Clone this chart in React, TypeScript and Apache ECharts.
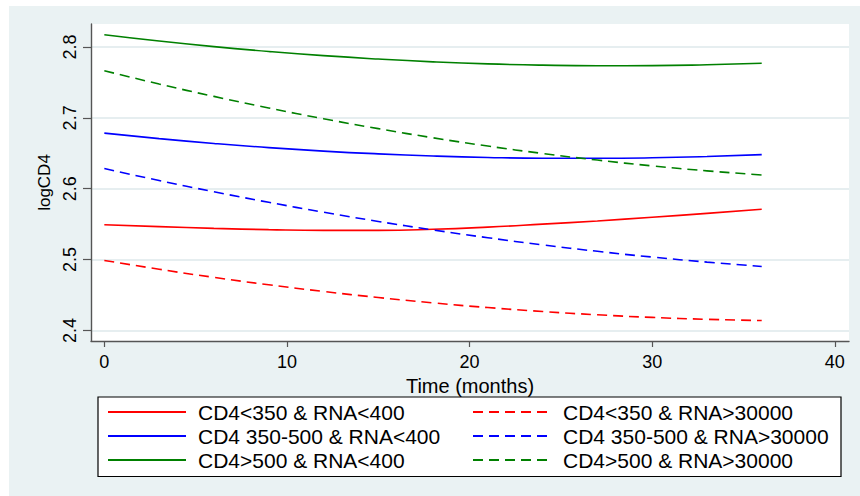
import React, { useEffect, useRef } from "react";
import * as echarts from "echarts";

// Time points (months) at which the curves were read
const months = [0, 3, 6, 9, 12, 15, 18, 21, 24, 27, 30, 33, 36];

// logCD4 values
const lowCd4LowRna = [2.5492, 2.5465, 2.544, 2.5422, 2.5412, 2.5412, 2.5427, 2.5458, 2.55, 2.5545, 2.5597, 2.5652, 2.5709];
const lowCd4HighRna = [2.4987, 2.4863, 2.4748, 2.4644, 2.4549, 2.4464, 2.4388, 2.4322, 2.4266, 2.422, 2.4183, 2.4156, 2.4139];
const midCd4LowRna = [2.6784, 2.6707, 2.6639, 2.658, 2.6531, 2.6492, 2.6462, 2.6441, 2.643, 2.6429, 2.6436, 2.6454, 2.6481];
const midCd4HighRna = [2.6284, 2.6115, 2.5957, 2.5808, 2.5668, 2.5538, 2.5418, 2.5308, 2.5207, 2.5116, 2.5035, 2.4964, 2.4902];
const highCd4LowRna = [2.8174, 2.8085, 2.8006, 2.7937, 2.7878, 2.783, 2.7791, 2.7762, 2.7744, 2.7736, 2.7737, 2.7749, 2.7771];
const highCd4HighRna = [2.7665, 2.7478, 2.7303, 2.714, 2.6988, 2.6848, 2.6719, 2.6602, 2.6497, 2.6404, 2.6322, 2.6252, 2.6194];

const solidNames = ["CD4<350 & RNA<400", "CD4 350-500 & RNA<400", "CD4>500 & RNA<400"];
const dashedNames = ["CD4<350 & RNA>30000", "CD4 350-500 & RNA>30000", "CD4>500 & RNA>30000"];
const colors = ["#ff0000", "#0000ff", "#008000"];

const yTicks = [2.4, 2.5, 2.6, 2.7, 2.8];
const xTicks = [0, 10, 20, 30, 40];

const FONT = "'Liberation Sans', Arial, Helvetica, sans-serif";

function pairs(vals: number[]) {
  return months.map((m, i) => [m, vals[i]]);
}

export default function App() {
  const ref = useRef<HTMLDivElement>(null);

  useEffect(() => {
    if (!ref.current) return;
    const chart = echarts.init(ref.current, undefined, { renderer: "svg" });

    const solidData = [lowCd4LowRna, midCd4LowRna, highCd4LowRna];
    const dashedData = [lowCd4HighRna, midCd4HighRna, highCd4HighRna];

    const series: any[] = [];
    for (let i = 0; i < 3; i++) {
      series.push({
        name: solidNames[i],
        type: "line",
        data: pairs(solidData[i]),
        symbol: "none",
        smooth: true,
        lineStyle: { color: colors[i], width: 1.6, type: "solid" },
        itemStyle: { color: colors[i] },
      });
      series.push({
        name: dashedNames[i],
        type: "line",
        data: pairs(dashedData[i]),
        symbol: "none",
        smooth: true,
        lineStyle: { color: colors[i], width: 1.6, type: [10, 6] },
        itemStyle: { color: colors[i] },
      });
    }

    const legendCommon = {
      orient: "vertical",
      top: 394,
      padding: 0,
      itemWidth: 78,
      itemHeight: 14,
      itemGap: 0,
      selectedMode: false,
      z: 10,
      itemStyle: { opacity: 0, borderWidth: 0 },
      textStyle: {
        fontFamily: FONT,
        fontSize: 21,
        color: "#000",
        lineHeight: 24,
        padding: [0, 0, 0, 7],
      },
    };

    chart.setOption({
      animation: false,
      backgroundColor: "#EAF2F3",
      grid: {
        left: 82,
        top: 18,
        right: 11,
        bottom: 155,
        show: true,
        backgroundColor: "#ffffff",
        borderWidth: 0,
      },
      xAxis: {
        type: "value",
        min: -0.73,
        max: 40.78,
        name: "Time (months)",
        nameLocation: "middle",
        nameGap: 22,
        nameTextStyle: { fontFamily: FONT, fontSize: 20, color: "#000" },
        axisLine: { show: true, onZero: false, lineStyle: { color: "#555", width: 1.4 } },
        axisTick: { show: true, length: 6, customValues: xTicks, lineStyle: { color: "#555", width: 1.2 } },
        axisLabel: { customValues: xTicks, margin: 12, fontFamily: FONT, fontSize: 18, color: "#000" },
        splitLine: { show: false },
      },
      yAxis: {
        type: "value",
        min: 2.385,
        max: 2.8325,
        name: "logCD4",
        nameLocation: "middle",
        nameGap: 31,
        nameTextStyle: { fontFamily: FONT, fontSize: 17, color: "#000" },
        axisLine: { show: true, onZero: false, lineStyle: { color: "#555", width: 1.4 } },
        axisTick: { show: true, length: 8, customValues: yTicks, lineStyle: { color: "#555", width: 1.2 } },
        axisLabel: { customValues: yTicks, rotate: 90, margin: 12, fontFamily: FONT, fontSize: 18, color: "#000" },
        splitLine: { show: true, lineStyle: { color: "#E6EEF0", width: 2 } },
      },
      legend: [
        { ...legendCommon, left: 98, data: solidNames },
        { ...legendCommon, left: 463, data: dashedNames },
      ],
      graphic: [
        {
          type: "rect",
          z: 1,
          shape: { x: 89, y: 391, width: 743, height: 79.5 },
          style: { fill: "#ffffff", stroke: "#000", lineWidth: 1.2 },
        },
      ],
      series,
    });

    return () => chart.dispose();
  }, []);

  return (
    <div style={{ position: "fixed", left: 0, top: 0, width: 860, height: 496, background: "#ffffff" }}>
      <div ref={ref} style={{ position: "absolute", left: 9, top: 6, width: 851, height: 490 }} />
    </div>
  );
}
